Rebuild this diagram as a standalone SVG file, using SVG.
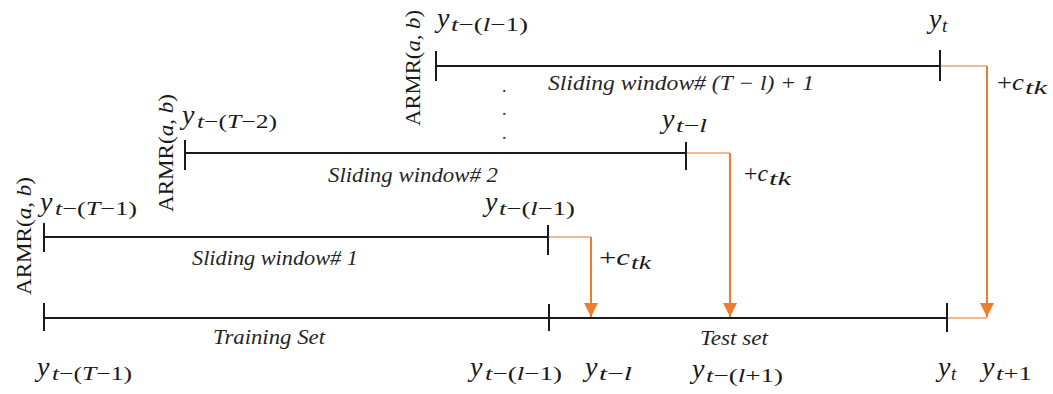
<svg xmlns="http://www.w3.org/2000/svg" width="1053" height="394" viewBox="0 0 1053 394">
<style>
.ln{stroke:#1a1a1a;stroke-width:2;fill:none}
.or{stroke:#ED7D31;stroke-width:2;fill:none}
.orh{stroke:#F0A068;stroke-width:1.5;fill:none}
.t{font-family:"Liberation Serif",serif;fill:#1a1a1a}
.it{font-style:italic}
.y{font-size:28px;font-style:italic}
.s{font-size:19px}
.lab{font-size:21px;font-style:italic;fill:#262626}
.ar{font-size:20px}
.pc{font-size:23px}
.dot{font-family:"Liberation Serif",serif;font-size:18px;fill:#333}
</style>
<defs>
<marker id="ah" viewBox="0 0 10 10" refX="10" refY="5" markerWidth="14" markerHeight="14" markerUnits="userSpaceOnUse" orient="auto">
<path d="M0,0 L10,5 L0,10 z" fill="#ED7D31"/>
</marker>
</defs>

<g id="connectors">
<path class="orh" d="M549,237 H591"/>
<path class="or" d="M591,237 V317" marker-end="url(#ah)"/>
<path class="orh" d="M686,153 H730"/>
<path class="or" d="M730,153 V317" marker-end="url(#ah)"/>
<path class="orh" d="M940,66 H987"/>
<path class="or" d="M987,66 V317" marker-end="url(#ah)"/>
<path class="orh" d="M947,318 H987"/>
</g>

<g id="axis">
<path class="ln" d="M44,318 H947"/>
<path class="ln" d="M44,303 V331 M549,304 V331 M947,303 V332"/>
<text class="t lab" x="213" y="344" textLength="112" lengthAdjust="spacingAndGlyphs">Training Set</text>
<text class="t lab" x="700" y="345" textLength="68" lengthAdjust="spacingAndGlyphs">Test set</text>
<text class="t y" x="37" y="376">y</text>
<text class="t s" x="52" y="380" textLength="80" lengthAdjust="spacingAndGlyphs"><tspan class="it">t</tspan>−(<tspan class="it">T</tspan>−1)</text>
<text class="t y" x="470" y="376">y</text>
<text class="t s" x="485" y="380" textLength="77" lengthAdjust="spacingAndGlyphs"><tspan class="it">t</tspan>−(<tspan class="it">l</tspan>−1)</text>
<text class="t y" x="585" y="376">y</text>
<text class="t s" x="599" y="380" textLength="33" lengthAdjust="spacingAndGlyphs"><tspan class="it">t</tspan>−<tspan class="it">l</tspan></text>
<text class="t y" x="692" y="378">y</text>
<text class="t s" x="706" y="382" textLength="77" lengthAdjust="spacingAndGlyphs"><tspan class="it">t</tspan>−(<tspan class="it">l</tspan>+1)</text>
<text class="t y" x="938" y="376">y</text>
<text class="t s it" x="951" y="380">t</text>
<text class="t y" x="982" y="376">y</text>
<text class="t s" x="996" y="380" textLength="36" lengthAdjust="spacingAndGlyphs"><tspan class="it">t</tspan>+1</text>
</g>

<g id="window1">
<path class="ln" d="M44,237 H549 M44,223 V252 M548,225 V255"/>
<text class="t ar" transform="translate(31,236) rotate(-90)" text-anchor="middle" textLength="118" lengthAdjust="spacingAndGlyphs">ARMR(<tspan class="it">a</tspan>, <tspan class="it">b</tspan>)</text>
<text class="t y" x="40" y="211">y</text>
<text class="t s" x="55" y="215" textLength="82" lengthAdjust="spacingAndGlyphs"><tspan class="it">t</tspan>−(<tspan class="it">T</tspan>−1)</text>
<text class="t y" x="485" y="211">y</text>
<text class="t s" x="499" y="215" textLength="76" lengthAdjust="spacingAndGlyphs"><tspan class="it">t</tspan>−(<tspan class="it">l</tspan>−1)</text>
<text class="t lab" x="192" y="265" textLength="166" lengthAdjust="spacingAndGlyphs">Sliding window# 1</text>
<text class="t pc" x="599" y="265" textLength="31" lengthAdjust="spacingAndGlyphs">+<tspan class="it">c</tspan></text>
<text class="t s it" x="631" y="269" textLength="20" lengthAdjust="spacingAndGlyphs">tk</text>
</g>

<g id="window2">
<path class="ln" d="M185,153 H686 M185,140 V170 M686,142 V170"/>
<text class="t ar" transform="translate(173,153) rotate(-90)" text-anchor="middle" textLength="118" lengthAdjust="spacingAndGlyphs">ARMR(<tspan class="it">a</tspan>, <tspan class="it">b</tspan>)</text>
<text class="t y" x="182" y="124">y</text>
<text class="t s" x="197" y="128" textLength="80" lengthAdjust="spacingAndGlyphs"><tspan class="it">t</tspan>−(<tspan class="it">T</tspan>−2)</text>
<text class="t y" x="662" y="128">y</text>
<text class="t s" x="676" y="132" textLength="31" lengthAdjust="spacingAndGlyphs"><tspan class="it">t</tspan>−<tspan class="it">l</tspan></text>
<text class="t lab" x="328" y="182" textLength="170" lengthAdjust="spacingAndGlyphs">Sliding window# 2</text>
<text class="t pc" x="744" y="181" textLength="24" lengthAdjust="spacingAndGlyphs">+<tspan class="it">c</tspan></text>
<text class="t s it" x="769" y="185" textLength="22" lengthAdjust="spacingAndGlyphs">tk</text>
</g>

<g id="window3">
<path class="ln" d="M436,66 H940 M436,51 V81 M940,50 V81"/>
<text class="t ar" transform="translate(420,68) rotate(-90)" text-anchor="middle" textLength="116" lengthAdjust="spacingAndGlyphs">ARMR(<tspan class="it">a</tspan>, <tspan class="it">b</tspan>)</text>
<text class="t y" x="437" y="27">y</text>
<text class="t s" x="451" y="31" textLength="77" lengthAdjust="spacingAndGlyphs"><tspan class="it">t</tspan>−(<tspan class="it">l</tspan>−1)</text>
<text class="t y" x="929" y="28">y</text>
<text class="t s it" x="942" y="32">t</text>
<text class="t lab" x="548" y="90" textLength="266" lengthAdjust="spacingAndGlyphs">Sliding window# (<tspan>T</tspan> − <tspan>l</tspan>) + 1</text>
<text class="t pc" x="997" y="90" textLength="27" lengthAdjust="spacingAndGlyphs">+<tspan class="it">c</tspan></text>
<text class="t s it" x="1025" y="94" textLength="22" lengthAdjust="spacingAndGlyphs">tk</text>
</g>

<g id="ellipsis">
<text class="dot" x="502" y="92">.</text>
<text class="dot" x="502" y="115">.</text>
<text class="dot" x="502" y="139">.</text>
</g>
</svg>
